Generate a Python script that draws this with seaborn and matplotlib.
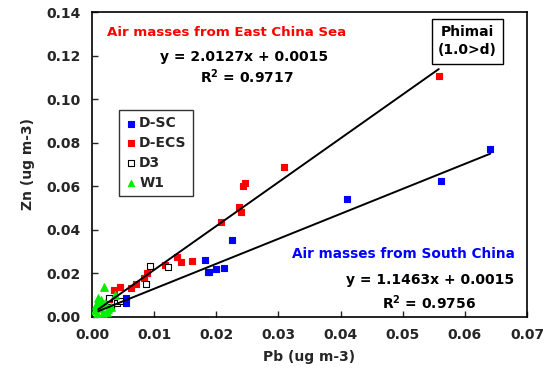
import numpy as np
import pandas as pd
import matplotlib
matplotlib.use("Agg")
import matplotlib.pyplot as plt
import seaborn as sns

sns.set_style("ticks")
plt.rcParams['font.family'] = ['DejaVu Sans']
plt.rcParams['font.weight'] = 'bold'

# D-SC (blue squares)
sc_pb = [0.0641, 0.0561, 0.0410, 0.0225, 0.0182, 0.0189, 0.0200, 0.0212, 0.0055, 0.0055, 0.0187]
sc_zn = [0.0772, 0.0624, 0.0540, 0.0352, 0.0262, 0.0207, 0.0222, 0.0226, 0.0086, 0.0063, 0.0208]
# D-ECS (red squares)
ecs_pb = [0.0558, 0.0309, 0.0246, 0.0243, 0.0236, 0.0240, 0.0208, 0.0144, 0.0161,
          0.0136, 0.0117, 0.0088, 0.0084, 0.0071, 0.0063, 0.0045, 0.0036, 0.0028]
ecs_zn = [0.1106, 0.0690, 0.0616, 0.0601, 0.0503, 0.0480, 0.0436, 0.0254, 0.0258,
          0.0277, 0.0239, 0.0200, 0.0178, 0.0150, 0.0132, 0.0139, 0.0124, 0.0083]
# D3 (open squares)
d3_pb = [0.0094, 0.0123, 0.0087, 0.0031, 0.0028, 0.0017, 0.0040, 0.0045]
d3_zn = [0.0235, 0.0228, 0.0150, 0.0047, 0.0086, 0.0055, 0.0062, 0.0075]
# W1 (green triangles)
w1_pb = [0.0019, 0.0009, 0.0037, 0.0006, 0.0013, 0.0018, 0.0005, 0.0011, 0.0021, 0.0026, 0.0008, 0.0015, 0.0030, 0.0024]
w1_zn = [0.0139, 0.0086, 0.0101, 0.0055, 0.0040, 0.0018, 0.0030, 0.0070, 0.0065, 0.0035, 0.0012, 0.0078, 0.0048, 0.0022]

# regression equations
ecs_slope, ecs_int = 2.0127, 0.0015
sc_slope, sc_int = 1.1463, 0.0015

fig = plt.figure(figsize=(5.53, 3.76), dpi=100)
ax = fig.add_axes([92/553, 1-317/376, (527-92)/553, (317-12)/376])

groups = [
    ("D-SC", sc_pb, sc_zn, "s", "#0000FF", "#0000FF", 22),
    ("D-ECS", ecs_pb, ecs_zn, "s", "#FF0000", "#FF0000", 22),
    ("D3", d3_pb, d3_zn, "s", "white", "black", 22),
    ("W1", w1_pb, w1_zn, "^", "#00EE00", "#00EE00", 30),
]
for name, xs, ys, mk, fc, ec, s in groups:
    df = pd.DataFrame({"Pb": xs, "Zn": ys})
    sns.scatterplot(data=df, x="Pb", y="Zn", marker=mk, color=fc, edgecolor=ec,
                    linewidth=0.8, s=s, ax=ax, label=name, zorder=3)

xl = np.array([0.001, max(ecs_pb)])
ax.plot(xl, ecs_slope * xl + ecs_int, color="black", lw=1.4, zorder=4)
xs2 = np.array([0.001, max(sc_pb)])
ax.plot(xs2, sc_slope * xs2 + sc_int, color="black", lw=1.4, zorder=4)

ax.set_xlim(0, 0.07)
ax.set_ylim(0, 0.14)
ax.set_xticks(np.arange(0, 0.0701, 0.01))
ax.set_yticks(np.arange(0, 0.1401, 0.02))
ax.set_xticklabels([f"{v:.2f}" for v in np.arange(0, 0.0701, 0.01)])
ax.set_yticklabels([f"{v:.2f}" for v in np.arange(0, 0.1401, 0.02)])
ax.tick_params(direction="in", length=4, width=1, labelsize=10, pad=8)
for lab in ax.get_xticklabels() + ax.get_yticklabels():
    lab.set_fontweight("bold")
for sp in ax.spines.values():
    sp.set_visible(True)
    sp.set_linewidth(1.2)
    sp.set_color("black")
ax.set_xlabel("Pb (ug m-3)", fontsize=10, fontweight="bold", labelpad=6)
ax.set_ylabel("Zn (ug m-3)", fontsize=10, fontweight="bold", labelpad=8)

leg = ax.legend(loc="upper left", bbox_to_anchor=((112-92)/435, (317-103)/305),
                frameon=True, fancybox=False, edgecolor="black", fontsize=10,
                handletextpad=0.2, borderpad=0.45, labelspacing=0.42, handlelength=0.8,
                markerscale=0.8)
leg.get_frame().set_linewidth(1.0)
for t in leg.get_texts():
    t.set_fontweight("bold")

ax.text(0.0024, 0.1305, "Air masses from East China Sea", color="#FF0000",
        fontsize=9.6, fontweight="bold", va="center", ha="left")
ax.text(0.0110, 0.1195, "y = 2.0127x + 0.0015", color="black",
        fontsize=10, fontweight="bold", va="center", ha="left")
ax.text(0.0174, 0.1103, "R$^2$ = 0.9717", color="black",
        fontsize=10, fontweight="bold", va="center", ha="left")
ax.text(0.0604, 0.1265, "Phimai\n(1.0>d)", color="black", fontsize=10,
        fontweight="bold", va="center", ha="center", linespacing=1.35,
        bbox=dict(boxstyle="square,pad=0.45", fc="white", ec="black", lw=1.0))
ax.text(0.0680, 0.0290, "Air masses from South China", color="#0000FF",
        fontsize=9.8, fontweight="bold", va="center", ha="right")
ax.text(0.0680, 0.0170, "y = 1.1463x + 0.0015", color="black",
        fontsize=10, fontweight="bold", va="center", ha="right")
ax.text(0.0618, 0.0065, "R$^2$ = 0.9756", color="black",
        fontsize=10, fontweight="bold", va="center", ha="right")

fig.savefig("out.png", dpi=100)
